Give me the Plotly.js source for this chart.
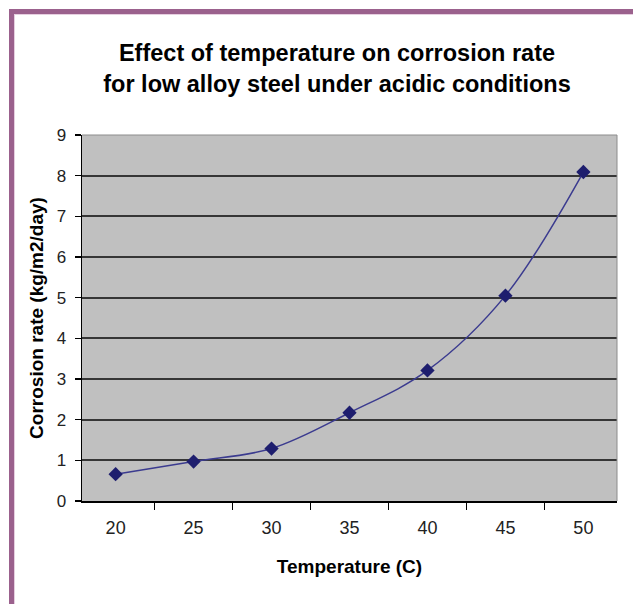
<!DOCTYPE html>
<html>
<head>
<meta charset="utf-8">
<script src="https://cdn.plot.ly/plotly-3.0.1.min.js"></script>
<style>
html,body{margin:0;padding:0;background:#ffffff;}
#chart{width:633px;height:604px;}
</style>
</head>
<body>
<div id="chart"></div>
<script>
// Data
const temperatures = ['20', '25', '30', '35', '40', '45', '50'];
const corrosionRates = [0.66, 0.97, 1.29, 2.17, 3.21, 5.05, 8.09];
const yTickValues = [0, 1, 2, 3, 4, 5, 6, 7, 8, 9];

const chartTitle = 'Effect of temperature on corrosion rate<br>for low alloy steel under acidic conditions';
const xTitle = 'Temperature (C)';
const yTitle = 'Corrosion rate (kg/m2/day)';

const W = 633, H = 604;
const margin = {l: 82, r: 16, t: 135, b: 103};
const plotW = W - margin.l - margin.r;
const plotH = H - margin.t - margin.b;
// convert container pixels to paper coords (for the decorative frame)
const px = x => (x - margin.l) / plotW;
const py = y => (H - margin.b - y) / plotH;

const FONT = '"Liberation Sans", Arial, sans-serif';
const purple = '#9b618d';

const trace = {
  x: temperatures,
  y: corrosionRates,
  type: 'scatter',
  mode: 'lines+markers',
  line: {color: '#3b3b8f', width: 1.5, shape: 'spline', smoothing: 1},
  marker: {symbol: 'diamond', size: 11, color: '#1e1e6e'},
  hoverinfo: 'x+y'
};

const layout = {
  width: W, height: H,
  margin: margin,
  paper_bgcolor: '#ffffff',
  plot_bgcolor: '#c0c0c0',
  showlegend: false,
  font: {family: FONT, color: '#111'},
  title: {
    text: chartTitle,
    font: {family: FONT, size: 23.5, color: '#000', weight: 'bold'},
    xref: 'container', x: 337 / W, xanchor: 'center',
    yref: 'container', y: 1 - 61 / H, yanchor: 'middle'
  },
  xaxis: {
    type: 'category',
    categoryorder: 'array',
    categoryarray: temperatures,
    tickson: 'boundaries',
    ticks: 'outside', ticklen: 7, tickwidth: 1.5, tickcolor: '#000',
    showline: true, linecolor: '#000', linewidth: 1.5,
    showgrid: false, zeroline: false,
    ticklabelstandoff: 10,
    tickfont: {family: FONT, size: 18, color: '#222'},
    title: {text: xTitle, font: {family: FONT, size: 19, color: '#000', weight: 'bold'}, standoff: 22},
    fixedrange: true
  },
  yaxis: {
    range: [0, 9],
    tickvals: yTickValues,
    ticks: 'outside', ticklen: 6, tickwidth: 1.5, tickcolor: '#000',
    showline: true, linecolor: '#000', linewidth: 1.5,
    showgrid: true, gridcolor: '#363636', gridwidth: 2,
    zeroline: false,
    ticklabelstandoff: 5,
    tickfont: {family: FONT, size: 17, color: '#222'},
    title: {text: yTitle, font: {family: FONT, size: 19, color: '#000', weight: 'bold'}, standoff: 8},
    fixedrange: true
  },
  shapes: [
    // plot area frame (top and right, gray)
    {type: 'line', xref: 'paper', yref: 'paper', x0: 0, x1: 1, y0: 1, y1: 1, line: {color: '#8c8c8c', width: 1}},
    {type: 'line', xref: 'paper', yref: 'paper', x0: 1, x1: 1, y0: 0, y1: 1, line: {color: '#8c8c8c', width: 1}},
    // purple page frame (top and left)
    {type: 'rect', xref: 'paper', yref: 'paper', x0: px(9), x1: px(633), y0: py(9), y1: py(14), fillcolor: purple, line: {width: 0}, layer: 'above'},
    {type: 'rect', xref: 'paper', yref: 'paper', x0: px(9), x1: px(14), y0: py(9), y1: py(604), fillcolor: purple, line: {width: 0}, layer: 'above'},
    {type: 'rect', xref: 'paper', yref: 'paper', x0: px(14), x1: px(633), y0: py(14), y1: py(15), fillcolor: '#e6cfe0', line: {width: 0}, layer: 'above'},
    {type: 'rect', xref: 'paper', yref: 'paper', x0: px(14), x1: px(15), y0: py(15), y1: py(604), fillcolor: '#e6cfe0', line: {width: 0}, layer: 'above'}
  ]
};

Plotly.newPlot('chart', [trace], layout, {displayModeBar: false, staticPlot: true});
</script>
</body>
</html>
